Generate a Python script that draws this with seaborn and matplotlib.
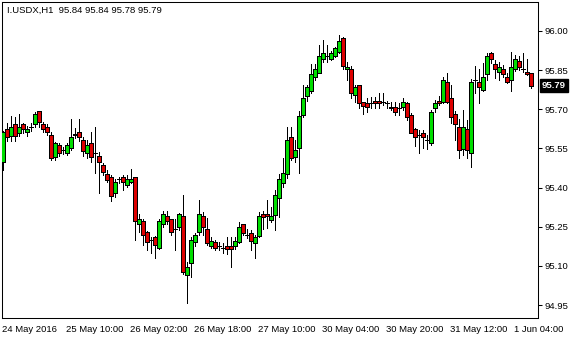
import numpy as np
import pandas as pd
import matplotlib
matplotlib.use("Agg")
import matplotlib.pyplot as plt
import matplotlib.transforms as mtransforms
import seaborn as sns

# ---- data (hourly bars) ----
opens = [95.498, 95.625, 95.598, 95.644, 95.609, 95.644, 95.613, 95.632, 95.644, 95.694,
         95.644, 95.632, 95.602, 95.517, 95.563, 95.544, 95.533, 95.552, 95.602, 95.613,
         95.582, 95.533, 95.571, 95.533, 95.521, 95.487, 95.452, 95.441, 95.379, 95.433,
         95.441, 95.410, 95.422, 95.441, 95.261, 95.272, 95.230, 95.199, 95.211, 95.169,
         95.261, 95.291, 95.280, 95.241, 95.249, 95.291, 95.065, 95.111, 95.192, 95.230,
         95.291, 95.241, 95.176, 95.192, 95.176, 95.169, 95.176, 95.176, 95.176, 95.192,
         95.261, 95.218, 95.226, 95.188, 95.215, 95.299, 95.299, 95.276, 95.295, 95.360,
         95.418, 95.452, 95.594, 95.517, 95.552, 95.678, 95.751, 95.770, 95.824, 95.839,
         95.893, 95.904, 95.893, 95.904, 95.920, 95.973, 95.854, 95.854, 95.755, 95.793,
         95.728, 95.724, 95.724, 95.732, 95.732, 95.728, 95.724, 95.709, 95.709, 95.705,
         95.709, 95.724, 95.678, 95.625, 95.602, 95.609, 95.582, 95.571, 95.705, 95.732,
         95.728, 95.805, 95.743, 95.682, 95.632, 95.548, 95.625, 95.533, 95.812, 95.805,
         95.774, 95.835, 95.916, 95.874, 95.843, 95.854, 95.824, 95.812, 95.854, 95.885,
         95.854, 95.843, 95.840]
highs = [95.617, 95.648, 95.674, 95.671, 95.682, 95.648, 95.636, 95.648, 95.690, 95.694,
         95.651, 95.644, 95.613, 95.575, 95.571, 95.556, 95.571, 95.663, 95.628, 95.663,
         95.594, 95.582, 95.613, 95.632, 95.536, 95.494, 95.467, 95.448, 95.433, 95.441,
         95.448, 95.448, 95.471, 95.441, 95.299, 95.280, 95.234, 95.211, 95.215, 95.280,
         95.310, 95.310, 95.280, 95.280, 95.303, 95.372, 95.115, 95.211, 95.226, 95.353,
         95.307, 95.284, 95.211, 95.199, 95.192, 95.188, 95.211, 95.211, 95.211, 95.268,
         95.261, 95.241, 95.238, 95.218, 95.307, 95.310, 95.353, 95.326, 95.391, 95.452,
         95.513, 95.632, 95.632, 95.582, 95.694, 95.793, 95.793, 95.874, 95.874, 95.946,
         95.966, 95.946, 95.923, 95.939, 95.985, 95.977, 95.881, 95.866, 95.793, 95.793,
         95.728, 95.743, 95.747, 95.747, 95.762, 95.762, 95.732, 95.728, 95.728, 95.724,
         95.743, 95.728, 95.686, 95.628, 95.621, 95.621, 95.602, 95.697, 95.736, 95.751,
         95.824, 95.839, 95.793, 95.694, 95.663, 95.697, 95.659, 95.816, 95.866, 95.854,
         95.877, 95.916, 95.920, 95.889, 95.881, 95.870, 95.839, 95.920, 95.908, 95.904,
         95.916, 95.893, 95.840]
lows = [95.467, 95.579, 95.579, 95.579, 95.598, 95.609, 95.598, 95.617, 95.632, 95.632,
        95.613, 95.602, 95.506, 95.506, 95.521, 95.529, 95.525, 95.544, 95.590, 95.579,
        95.521, 95.513, 95.498, 95.456, 95.379, 95.448, 95.422, 95.349, 95.364, 95.418,
        95.391, 95.402, 95.418, 95.199, 95.230, 95.180, 95.161, 95.150, 95.130, 95.165,
        95.249, 95.261, 95.218, 95.161, 95.238, 95.069, 94.958, 95.058, 95.176, 95.218,
        95.218, 95.180, 95.169, 95.161, 95.161, 95.150, 95.146, 95.096, 95.165, 95.188,
        95.218, 95.207, 95.161, 95.130, 95.211, 95.241, 95.245, 95.268, 95.238, 95.287,
        95.402, 95.437, 95.506, 95.498, 95.456, 95.671, 95.732, 95.762, 95.812, 95.839,
        95.881, 95.881, 95.889, 95.900, 95.916, 95.854, 95.812, 95.743, 95.728, 95.705,
        95.682, 95.690, 95.705, 95.705, 95.705, 95.716, 95.705, 95.697, 95.678, 95.678,
        95.697, 95.659, 95.609, 95.559, 95.533, 95.552, 95.548, 95.563, 95.690, 95.716,
        95.724, 95.724, 95.648, 95.582, 95.513, 95.525, 95.513, 95.479, 95.762, 95.724,
        95.770, 95.812, 95.877, 95.820, 95.812, 95.824, 95.801, 95.770, 95.847, 95.851,
        95.843, 95.831, 95.780]
closes = [95.613, 95.594, 95.632, 95.598, 95.632, 95.625, 95.625, 95.632, 95.682, 95.651,
          95.625, 95.613, 95.513, 95.571, 95.533, 95.544, 95.563, 95.594, 95.605, 95.594,
          95.540, 95.563, 95.517, 95.533, 95.498, 95.460, 95.429, 95.368, 95.422, 95.433,
          95.422, 95.433, 95.433, 95.272, 95.280, 95.218, 95.192, 95.199, 95.180, 95.272,
          95.299, 95.272, 95.230, 95.241, 95.299, 95.077, 95.096, 95.199, 95.218, 95.299,
          95.249, 95.188, 95.195, 95.169, 95.176, 95.169, 95.165, 95.165, 95.195, 95.249,
          95.226, 95.218, 95.195, 95.211, 95.291, 95.287, 95.291, 95.291, 95.372, 95.433,
          95.456, 95.582, 95.513, 95.544, 95.674, 95.743, 95.785, 95.835, 95.854, 95.904,
          95.916, 95.904, 95.916, 95.935, 95.962, 95.866, 95.862, 95.762, 95.785, 95.724,
          95.713, 95.709, 95.724, 95.724, 95.724, 95.728, 95.724, 95.705, 95.690, 95.705,
          95.728, 95.671, 95.609, 95.594, 95.602, 95.594, 95.582, 95.690, 95.724, 95.724,
          95.812, 95.728, 95.671, 95.644, 95.544, 95.632, 95.544, 95.805, 95.812, 95.785,
          95.824, 95.904, 95.893, 95.854, 95.862, 95.835, 95.805, 95.862, 95.893, 95.862,
          95.854, 95.835, 95.790]

x_tick_bars = [0, 16, 32, 48, 64, 80, 96, 112, 128]
x_tick_labels = ["24 May 2016", "25 May 10:00", "26 May 02:00", "26 May 18:00",
                 "27 May 10:00", "30 May 04:00", "30 May 20:00", "31 May 12:00",
                 "1 Jun 04:00"]
y_ticks = [94.95, 95.10, 95.25, 95.40, 95.55, 95.70, 95.85, 96.00]
title_text = "I.USDX,H1  95.84 95.84 95.78 95.79"
last_price = 95.79

# ---- style ----
sns.set_theme(style="white")
plt.rcParams["font.family"] = ["Liberation Sans", "DejaVu Sans"]
FS = 6.8

df = pd.DataFrame({"open": opens, "high": highs, "low": lows, "close": closes})
df["bar"] = np.arange(len(df))
df["bull"] = df["close"] >= df["open"]
df["body"] = df["close"] - df["open"]
UP, DOWN = "#00dd00", "#dd0000"
BW = 0.8

W, H = 580, 340
fig = plt.figure(figsize=(W / 100, H / 100), dpi=100)
fig.patch.set_facecolor("white")
ax = fig.add_axes([2 / W, 1 - 318 / H, 536 / W, 316 / H])
ax.set_facecolor("white")

# wicks
ax.vlines(df["bar"], df["low"], df["high"], color="black", linewidth=0.72,
          antialiased=False, zorder=2)
# bodies: coloured fill, then black outline
for is_up, col in [(True, UP), (False, DOWN)]:
    sub = df[df["bull"] == is_up]
    ax.bar(sub["bar"], sub["body"], bottom=sub["open"], width=BW,
           facecolor=col, edgecolor="none", linewidth=0, zorder=3)
ax.bar(df["bar"], df["body"], bottom=df["open"], width=BW, fill=False,
       edgecolor="black", linewidth=0.72, antialiased=False, zorder=4)

ax.set_xlim(-0.25, 133.75)
ax.set_ylim(94.9004, 96.1111)

for s in ax.spines.values():
    s.set_color("black")
    s.set_linewidth(0.75)

ax.yaxis.tick_right()
ax.set_yticks(y_ticks)
ax.set_yticklabels([f"{v:.2f}" for v in y_ticks])
ax.set_xticks(x_tick_bars)
ax.set_xticklabels(x_tick_labels, ha="left")
ax.tick_params(axis="both", direction="out", length=3, width=0.75, color="black",
               labelsize=FS, labelcolor="black")
ax.tick_params(axis="y", pad=2)
ax.tick_params(axis="x", pad=2)
for lab in ax.get_xticklabels():
    lab.set_transform(lab.get_transform() + mtransforms.ScaledTranslation(-1 / 100, 0, fig.dpi_scale_trans))

ax.grid(False)
ax.set_xlabel("")
ax.set_ylabel("")

# last-price tag
trans = mtransforms.blended_transform_factory(ax.transAxes, ax.transData)
ax.text(1.0 + 4 / 536, last_price, f"{last_price:.2f}", transform=trans, ha="left",
        va="center", color="white", fontsize=FS, fontweight="bold", clip_on=False,
        bbox=dict(facecolor="black", edgecolor="black", boxstyle="square,pad=0.2"))

# title
ax.text(5 / 536, 1 - 8 / 316, title_text, transform=ax.transAxes, ha="left",
        va="center", color="black", fontsize=FS)

fig.savefig("out.png", dpi=100, facecolor="white")
